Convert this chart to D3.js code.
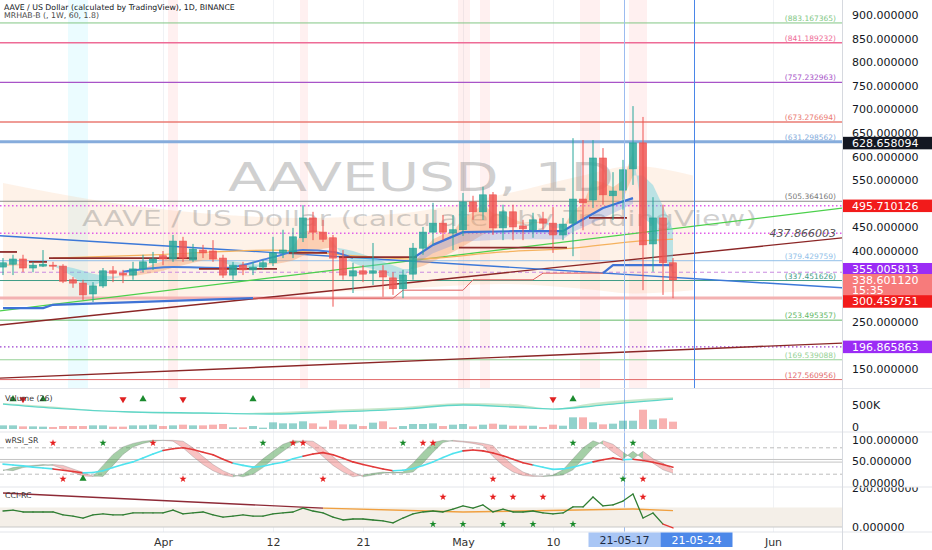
<!DOCTYPE html>
<html><head><meta charset="utf-8">
<script src="https://cdn.jsdelivr.net/npm/d3@7/dist/d3.min.js"></script>
<style>
html,body{margin:0;padding:0;background:#fff;overflow:hidden}
svg{display:block}
text{font-family:"DejaVu Sans",Verdana,sans-serif}
</style></head><body>
<svg id="chart" width="932" height="550"></svg>
<script>
// ================= DATA =================
const startDay = "2021-03-16";
const open  = [366,372,383,364,368,370,368,339,332,309,326,358,353,349,362,375,390,383,421,381,402,400,385,349,370,360,366,375,396,398,428,470,440,428,385,347,358,353,358,343,320,351,406,440,459,438,445,504,483,519,449,483,453,445,468,459,434,459,510,508,597,517,529,574,629,415,470,375];
const high  = [385,392,392,377,402,377,372,345,339,334,364,368,360,377,392,398,400,434,430,415,413,423,392,377,377,377,381,430,445,449,497,483,466,434,402,375,370,417,370,355,360,417,451,502,476,476,523,517,536,525,498,498,466,481,483,493,470,639,635,635,618,567,593,707,684,514,498,385];
const low   = [349,349,355,355,366,360,332,322,296,292,322,334,332,339,355,360,370,377,377,377,385,377,343,339,349,349,360,368,385,385,419,423,419,282,339,311,334,328,303,307,300,339,392,413,423,402,432,466,466,434,423,423,423,428,445,396,423,389,444,491,498,466,487,540,317,356,307,300];
const close = [375,383,364,370,372,368,336,332,307,326,358,353,349,362,377,383,383,421,385,404,396,383,349,370,360,366,375,396,402,430,470,440,425,385,349,358,351,358,345,320,349,406,440,459,440,445,504,483,519,449,483,451,447,466,459,434,457,510,502,597,519,527,572,629,413,470,375,338.60112];
const volumeK = [76,76,55,55,49,42,62,62,62,76,76,49,49,76,76,90,62,76,90,76,76,90,104,35,35,62,28,139,118,118,160,118,49,180,97,97,62,132,160,35,62,104,104,118,62,90,104,55,90,111,90,69,69,69,42,90,69,243,243,139,97,111,173,173,402,194,222,153];

// horizontal levels
const levels = [883.167365, 841.189232, 757.232963, 673.276694, 631.298562, 505.364160, 379.429759, 337.451626, 253.495357, 169.539088, 127.560956];
const extraLevels = [495.710126, 437.866003, 355.005813, 300.459751, 196.865863];
const priceTicks = [150,250,400,450,550,600,650,700,750,800,850,900];
const boxValues = [628.658094, 495.710126, 355.005813, 338.601120, 300.459751, 196.865863];
const lastBarTime = "15:35";

// trendlines: [startIndex, startValue, endIndex, endValue]
const trendGreen  = [0, 274, 84, 491];
const trendMaroon = [0, 244, 84, 428];
const trendMaroon2= [0, 131, 84, 205];
const trendBlue   = [0, 432, 84, 322];

// MRHAB ribbon
const emaFast = [372,374,372,370,370,369,358,346,330,326,336,342,346,352,362,372,378,395,392,398,398,392,375,368,364,364,368,380,392,410,440,445,440,418,390,375,366,362,355,340,342,370,400,425,435,440,470,482,500,480,478,468,460,462,462,448,450,485,500,550,545,535,550,610,470,455,390,350];
const emaSlow = [368,369,370,370,370,370,368,364,358,352,348,346,346,347,350,354,358,365,370,375,380,382,380,378,375,372,371,372,375,380,390,398,405,408,405,400,393,386,378,370,362,362,368,378,388,398,410,422,435,445,452,456,458,459,460,458,456,460,468,480,492,500,510,560,560,540,495,445];

// cloud (sampled)
const cloudIdx = [0,10,20,30,40,50,58,63,69];
const cloudTop = [544,505,480,470,480,520,560,580,560];
const cloudBot = [283,290,300,310,320,330,320,310,317];

// support / resistance step lines
const blueLowIdx = [0,4,5,25];            const blueLowVal = [279,279,286,300];
const redThinIdx = [25,39,40,46,47,53,54,60]; const redThinVal = [300,300,317,317,339,339,353,353];
const blueEndIdx = [60,61,67];            const blueEndVal = [353,370,370];
const blueMidIdx = [12,17,22,27,30,33,35];const blueMidVal = [356,366,364,387,402,398,385];
const blueHiIdx  = [41,43,46,51,56,57,60,63]; const blueHiVal = [385,413,440,442,442,455,491,512];
const blueHiFill = [370,395,420,425,425,440,470,500];
const resistSegs = [[0,1,398],[3,4,377],[5,19,385],[20,27,362],[29,32,396],[34,41,387],[46,56,407],[59,62,470]];
const emaLongIdx = [5,15,27,35,41,50,57,63,67]; const emaLongVal = [385,392,402,390,383,398,406,420,425];

// shaded columns [fromIndex, toIndex]
const pinkCols = [[16.5,17.5],[29.7,30.5],[45.5,46.7],[47.7,48.7],[57.7,59.7],[62.6,64.4]];
const cyanCols = [[6.5,8.5]];

// volume MA band (sampled)
const volMaIdx = [0,5,13,20,27,33,40,46,51,55,59,62,67];
const volMa    = [520,437,354,333,312,354,416,500,458,416,478,541,624];
const volMa2   = [540,470,340,320,350,400,460,540,520,420,540,600,660];
const volUp = [1,4,14,25,57];
const volDown = [2,12,18,55];

// wRSI_SR
const rsiFast = [28,35,38,40,42,40,32,24,16,15,40,65,82,90,95,97,97,95,80,60,42,28,18,14,20,35,55,72,88,96,95,80,60,40,25,14,18,22,25,22,25,45,70,92,97,95,93,90,85,60,40,25,17,15,16,18,30,55,80,96,88,70,55,72,55,45,30,22];
const rsiSlow = [30,28,35,38,40,42,40,32,24,16,15,40,65,82,90,95,97,97,95,80,60,42,28,18,14,20,35,55,72,88,96,95,80,60,40,25,14,18,22,25,22,25,45,70,92,97,95,93,90,85,60,40,25,17,15,16,18,30,55,80,96,88,70,55,72,55,45,30];
const rsiSignal = [43,41,39,36,34,32,29,26,23,24,28,35,42,48,57,66,74,78,80,76,70,64,54,45,40,36,38,43,47,55,61,66,69,64,56,48,42,37,32,28,29,33,40,48,58,67,73,75,73,68,62,54,46,41,36,31,32,36,42,48,53,57,53,54,51,47,42,36];
const rsiCyanRanges = [[0,5],[8,16],[23,30],[39,46],[53,59],[62,63]];
const rsiTopRed = [5,15,29,30,42,43];
const rsiTopGreen = [10,26,40,57,63];
const rsiBotRed = [6,18,32,49,64];
const rsiBotGreen = [62];
const rsiBotTri = [8];
const rsiLevels = [20,80];

// CCI-RC
const cci = [82,87,77,77,77,77,62,56,46,62,67,62,62,72,72,72,72,87,67,72,77,62,51,56,62,56,56,67,72,77,97,82,72,51,36,41,41,36,31,21,46,67,77,82,77,92,108,97,113,77,92,77,77,82,72,67,72,103,103,154,108,113,133,169,46,72,15,-5];
const cciSigIdx = [0,32,46,63,67];
const cciSigVal = [174,97,77,92,84];
const cciRed = [44,49,51,54,64];
const cciGreen = [43,46,50,53,57];

// time axis
const timeTicks = ["2021-04-01","2021-04-12","2021-04-21","2021-05-01","2021-05-10","2021-06-01"];
const timeLabels = ["Apr","12","21","May","10","Jun"];
const markDates = ["2021-05-17","2021-05-24"];
const markLabels = ["21-05-17","21-05-24"];

// ================= LAYOUT =================
const W = 932, H = 550, AX = 842;
const svg = d3.select("#chart");
const parse = d3.utcParse("%Y-%m-%d");
const t0 = parse(startDay);
const dateOf = i => new Date(t0.getTime() + i * 864e5);
const x = d3.scaleUtc().domain([t0, dateOf(77)]).range([3, 773]);
const X = i => x(dateOf(i));
const y = d3.scaleLinear().domain([150, 900]).range([369, 15]);
const yV = d3.scaleLinear().domain([0, 500]).range([429, 405]);
const yR = d3.scaleLinear().domain([0, 100]).range([483, 439]);
const yC = d3.scaleLinear().domain([0, 200]).range([527, 488]);
const idx = d3.range(open.length);

const defs = svg.append("defs");
function clip(id, y0, y1, x1 = AX) {
  defs.append("clipPath").attr("id", id).append("rect").attr("x", 0).attr("y", y0).attr("width", x1).attr("height", y1 - y0);
}
clip("cMain", 0, 388); clip("cVol", 389, 432); clip("cRsi", 432, 487); clip("cCci", 487, 532);
clip("cCciAx", 487.5, 532, W);

// vertical grid lines across panes
const gridG = svg.append("g");
timeTicks.forEach(d => {
  const xx = Math.round(x(parse(d))) + 0.5;
  gridG.append("line").attr("x1", xx).attr("x2", xx).attr("y1", 0).attr("y2", 532).attr("stroke", "#f0f2f5");
});

// ================= MAIN PANE =================
const gM = svg.append("g").attr("clip-path", "url(#cMain)");
pinkCols.forEach(c => gM.append("rect").attr("x", X(c[0])).attr("width", X(c[1]) - X(c[0])).attr("y", 0).attr("height", 388).attr("fill", "rgba(255,90,90,0.09)"));
cyanCols.forEach(c => gM.append("rect").attr("x", X(c[0])).attr("width", X(c[1]) - X(c[0])).attr("y", 0).attr("height", 388).attr("fill", "rgba(0,220,255,0.08)"));

const cloudData = cloudIdx.map((d, k) => ({i: d, t: cloudTop[k], b: cloudBot[k]}));
gM.append("path").datum(cloudData)
  .attr("d", d3.area().x(d => X(d.i)).y0(d => y(d.b)).y1(d => y(d.t)).curve(d3.curveMonotoneX))
  .attr("fill", "rgba(252,196,150,0.22)");

// watermarks
gM.append("text").text("AAVEUSD, 1D").attr("x", 228).attr("y", 191)
  .attr("font-family", "'DejaVu Sans',sans-serif").attr("font-size", 39).attr("fill", "rgba(120,120,120,0.34)")
  .attr("textLength", 386).attr("lengthAdjust", "spacingAndGlyphs");
gM.append("text").text("AAVE / US Dollar (calculated by TradingView)").attr("x", 82).attr("y", 226)
  .attr("font-family", "'DejaVu Sans',sans-serif").attr("font-size", 21).attr("fill", "rgba(120,120,120,0.34)")
  .attr("textLength", 675).attr("lengthAdjust", "spacingAndGlyphs");

// level lines
const levelStyle = [
  {c:"#82c785", w:1}, {c:"#ee6b96", w:1.3}, {c:"#a854c8", w:1.3}, {c:"#ea7b73", w:1.6},
  {c:"#86acdc", w:3}, {c:"#8c8c8c", w:1}, {c:"#92bfe9", w:1}, {c:"#3e9c86", w:1},
  {c:"#62b866", w:1}, {c:"#95d195", w:1}, {c:"#e26a6a", w:1}
];
levels.forEach((v, k) => {
  gM.append("line").attr("x1", 0).attr("x2", AX).attr("y1", y(v)).attr("y2", y(v))
    .attr("stroke", levelStyle[k].c).attr("stroke-width", levelStyle[k].w);
});
const extraStyle = [
  {c:"#e05ce8", w:1.5, d:"1.5,2.5"}, {c:"#e05ce8", w:1.5, d:"1.5,2.5"},
  {c:"#c98be0", w:1, d:"4,3"}, {c:"#f3b2b2", w:3, d:null}, {c:"#9c3fd0", w:1.3, d:"1.5,2.5"}
];
extraLevels.forEach((v, k) => {
  const l = gM.append("line").attr("x1", 0).attr("x2", AX).attr("y1", y(v)).attr("y2", y(v))
    .attr("stroke", extraStyle[k].c).attr("stroke-width", extraStyle[k].w);
  if (extraStyle[k].d) l.attr("stroke-dasharray", extraStyle[k].d);
});

function trend(t, color, w) {
  const slope = (t[3] - t[1]) / (t[2] - t[0]);
  const i0 = -1, i1 = 86;
  gM.append("line").attr("x1", X(i0)).attr("y1", y(t[1] + slope * (i0 - t[0])))
    .attr("x2", X(i1)).attr("y2", y(t[1] + slope * (i1 - t[0])))
    .attr("stroke", color).attr("stroke-width", w);
}
trend(trendGreen, "#4cd04c", 1.3);
trend(trendMaroon, "#8b2626", 1.4);
trend(trendMaroon2, "#8b2626", 1.4);
trend(trendBlue, "#3b78d8", 1.4);

for (let i = 0; i < emaFast.length - 1; i++) {
  const up = (emaFast[i] + emaFast[i+1]) >= (emaSlow[i] + emaSlow[i+1]);
  const pts = [[X(i), y(emaFast[i])], [X(i+1), y(emaFast[i+1])], [X(i+1), y(emaSlow[i+1])], [X(i), y(emaSlow[i])]];
  gM.append("path").attr("d", "M" + pts.join("L") + "Z")
    .attr("fill", up ? "rgba(247,160,105,0.42)" : "rgba(95,205,222,0.42)");
}

gM.append("path").datum(emaLongIdx.map((d, k) => [X(d), y(emaLongVal[k])]))
  .attr("d", d3.line().curve(d3.curveMonotoneX)).attr("fill", "none").attr("stroke", "#f5b25e").attr("stroke-width", 1.2);

const bh = blueHiIdx.map((d, k) => ({i: d, v: blueHiVal[k], f: blueHiFill[k]}));
gM.append("path").datum(bh).attr("d", d3.area().x(d => X(d.i)).y0(d => y(d.f)).y1(d => y(d.v)))
  .attr("fill", "rgba(100,140,230,0.28)");
function poly(ix, vals, color, w, curve) {
  const ln = d3.line();
  if (curve) ln.curve(curve);
  gM.append("path").datum(ix.map((d, k) => [X(d), y(vals[k])])).attr("d", ln)
    .attr("fill", "none").attr("stroke", color).attr("stroke-width", w).attr("stroke-linejoin", "round");
}
poly(blueHiIdx, blueHiVal, "#3f73d6", 2.2);
poly(blueMidIdx, blueMidVal, "#4a80dc", 2, d3.curveMonotoneX);
poly(blueLowIdx, blueLowVal, "#3f73d6", 2.2);
poly(redThinIdx, redThinVal, "#e06060", 1);
poly(blueEndIdx, blueEndVal, "#3f73d6", 2.2);
resistSegs.forEach(s => {
  gM.append("line").attr("x1", X(s[0]) - 4).attr("x2", X(s[1]) + 4).attr("y1", y(s[2])).attr("y2", y(s[2]))
    .attr("stroke", "#8e2d2d").attr("stroke-width", 1.8);
});

// candles
const upC = "#26a69a", dnC = "#ef5350";
const cg = gM.append("g");
idx.forEach(i => {
  const up = close[i] >= open[i];
  const col = up ? upC : dnC;
  const cx = X(i);
  cg.append("line").attr("x1", cx).attr("x2", cx).attr("y1", y(high[i])).attr("y2", y(low[i]))
    .attr("stroke", col).attr("stroke-width", 1);
  const top = y(Math.max(open[i], close[i])), bot = y(Math.min(open[i], close[i]));
  cg.append("rect").attr("x", cx - 3.5).attr("width", 7).attr("y", top).attr("height", Math.max(1, bot - top))
    .attr("fill", col).attr("fill-opacity", 0.82).attr("stroke", col).attr("stroke-width", 0.6);
});

const fmt6 = d3.format(".6f");
levels.forEach((v, k) => {
  gM.append("text").text("(" + fmt6(v) + ")").attr("x", 836).attr("y", y(v) - 2)
    .attr("text-anchor", "end").attr("font-size", 7.5).attr("fill", k === 5 ? "#777" : levelStyle[k].c);
});
gM.append("text").text(fmt6(extraLevels[1])).attr("x", 836).attr("y", y(extraLevels[1]) + 4)
  .attr("text-anchor", "end").attr("font-size", 11).attr("font-style", "italic").attr("fill", "#555");

svg.append("line").attr("x1", X(62) + 1.5).attr("x2", X(62) + 1.5).attr("y1", 0).attr("y2", 532)
  .attr("stroke", "#9cbcf0").attr("stroke-width", 1);
svg.append("line").attr("x1", X(69) + 1.5).attr("x2", X(69) + 1.5).attr("y1", 0).attr("y2", 389)
  .attr("stroke", "#4a86e8").attr("stroke-width", 1);

svg.append("text").text("AAVE / US Dollar (calculated by TradingView), 1D, BINANCE").attr("x", 4).attr("y", 9.5)
  .attr("font-size", 7.8).attr("fill", "#131722");
svg.append("text").text("MRHAB-B (, 1W, 60, 1.8)").attr("x", 4).attr("y", 18)
  .attr("font-size", 7.8).attr("fill", "#4a4a4a");

// ================= VOLUME PANE =================
const gVol = svg.append("g").attr("clip-path", "url(#cVol)");
idx.forEach(i => {
  const up = close[i] >= open[i];
  gVol.append("rect").attr("x", X(i) - 4).attr("width", 8).attr("y", yV(volumeK[i])).attr("height", yV(0) - yV(volumeK[i]))
    .attr("fill", up ? "rgba(38,166,154,0.5)" : "rgba(239,83,80,0.45)");
});
const vm = volMaIdx.map((d, k) => ({i: d, a: volMa[k], b: volMa2[k]}));
gVol.append("path").datum(vm).attr("d", d3.area().x(d => X(d.i)).y0(d => yV(d.a)).y1(d => yV(d.b)).curve(d3.curveMonotoneX))
  .attr("fill", "rgba(102,187,106,0.35)");
gVol.append("path").datum(vm).attr("d", d3.line().x(d => X(d.i)).y(d => yV(d.a)).curve(d3.curveMonotoneX))
  .attr("fill", "none").attr("stroke", "#5fd6c8").attr("stroke-width", 1.3);
const triUp = d3.symbol().type(d3.symbolTriangle).size(22);
volUp.forEach(i => gVol.append("path").attr("d", triUp()).attr("transform", `translate(${X(i)},${yV(620)})`).attr("fill", "#1b8a2e"));
volDown.forEach(i => gVol.append("path").attr("d", triUp()).attr("transform", `translate(${X(i)},${yV(620)}) rotate(180)`).attr("fill", "#e02020"));
svg.append("text").text("Volume (26)").attr("x", 5).attr("y", 401).attr("font-size", 7.8).attr("fill", "#333");

// ================= wRSI PANE =================
const gR = svg.append("g").attr("clip-path", "url(#cRsi)");
rsiLevels.forEach(v => gR.append("line").attr("x1", 0).attr("x2", AX).attr("y1", yR(v)).attr("y2", yR(v))
  .attr("stroke", "#bdbdbd").attr("stroke-dasharray", "4,3"));
[47.5, 53.5].forEach(v => gR.append("line").attr("x1", 0).attr("x2", AX).attr("y1", yR(v)).attr("y2", yR(v))
  .attr("stroke", "#c4c4c4").attr("stroke-width", 1));
for (let i = 0; i < rsiFast.length - 1; i++) {
  const up = (rsiFast[i] + rsiFast[i+1]) >= (rsiSlow[i] + rsiSlow[i+1]);
  const pts = [[X(i), yR(rsiFast[i])], [X(i+1), yR(rsiFast[i+1])], [X(i+1), yR(rsiSlow[i+1])], [X(i), yR(rsiSlow[i])]];
  gR.append("path").attr("d", "M" + pts.join("L") + "Z")
    .attr("fill", up ? "rgba(76,160,80,0.5)" : "rgba(240,120,120,0.45)");
}
[rsiFast, rsiSlow].forEach(arr => gR.append("path").datum(idx.map(i => [X(i), yR(arr[i])])).attr("d", d3.line())
  .attr("fill", "none").attr("stroke", "rgba(120,120,120,0.45)").attr("stroke-width", 0.7));
const isCyan = i => rsiCyanRanges.some(r => i >= r[0] && i < r[1]);
for (let i = 0; i < rsiSignal.length - 1; i++) {
  gR.append("line").attr("x1", X(i)).attr("x2", X(i+1)).attr("y1", yR(rsiSignal[i])).attr("y2", yR(rsiSignal[i+1]))
    .attr("stroke", isCyan(i) ? "#4fe3ee" : "#e23a3a").attr("stroke-width", 1.6).attr("stroke-linecap", "round");
}
const star = d3.symbol().type(d3.symbolStar).size(16);
const mk = (g, arr, v, col, sc) => arr.forEach(i => g.append("path").attr("d", star()).attr("transform", `translate(${X(i)},${sc(v)})`).attr("fill", col));
mk(gR, rsiTopRed, 91, "#e62020", yR); mk(gR, rsiTopGreen, 91, "#188a2a", yR);
mk(gR, rsiBotRed, 9, "#e62020", yR); mk(gR, rsiBotGreen, 9, "#188a2a", yR);
rsiBotTri.forEach(i => gR.append("path").attr("d", triUp()).attr("transform", `translate(${X(i)},${yR(10)})`).attr("fill", "#188a2a"));
svg.append("text").text("wRSI_SR").attr("x", 5).attr("y", 443).attr("font-size", 7.8).attr("fill", "#333");

// ================= CCI PANE =================
const gC = svg.append("g").attr("clip-path", "url(#cCci)");
gC.append("rect").attr("x", 0).attr("width", AX).attr("y", yC(100)).attr("height", yC(0) - yC(100)).attr("fill", "#f4efe8");
gC.append("line").attr("x1", 0).attr("x2", AX).attr("y1", yC(0)).attr("y2", yC(0)).attr("stroke", "#c9c9c9");
for (let k = 0; k < cciSigIdx.length - 1; k++) {
  gC.append("line").attr("x1", X(cciSigIdx[k])).attr("x2", X(cciSigIdx[k+1]))
    .attr("y1", yC(cciSigVal[k])).attr("y2", yC(cciSigVal[k+1]))
    .attr("stroke", k === 0 ? "#8e2a36" : "#f0a040").attr("stroke-width", 1.4);
}
for (let i = 0; i < cci.length - 1; i++) {
  gC.append("line").attr("x1", X(i)).attr("x2", X(i+1)).attr("y1", yC(cci[i])).attr("y2", yC(cci[i+1]))
    .attr("stroke", i >= 66 ? "#e53935" : "#2f7d32").attr("stroke-width", 1.3).attr("stroke-linecap", "round");
}
mk(gC, cciRed, 154, "#e62020", yC); mk(gC, cciGreen, 15, "#188a2a", yC);
svg.append("text").text("CCI-RC").attr("x", 5).attr("y", 498).attr("font-size", 7.8).attr("fill", "#333");

// ================= SEPARATORS =================
[388.5, 432, 487, 532].forEach(yy => svg.append("line").attr("x1", 0).attr("x2", W).attr("y1", yy).attr("y2", yy).attr("stroke", "#e3e5ea"));
svg.append("line").attr("x1", AX + 0.5).attr("x2", AX + 0.5).attr("y1", 0).attr("y2", H).attr("stroke", "#d6d9df");

// ================= AXES =================
function styleAxis(g) {
  g.select(".domain").remove();
  g.attr("font-family", "'DejaVu Sans',sans-serif").attr("font-size", 11);
  g.selectAll("text").attr("fill", "#131722");
}
svg.append("g").attr("transform", `translate(${AX},0)`)
  .call(d3.axisRight(y).tickValues(priceTicks).tickFormat(fmt6).tickSize(0).tickPadding(10)).call(styleAxis);
const gVA = svg.append("g").attr("transform", `translate(${AX},0)`)
  .call(d3.axisRight(yV).tickValues([0, 500]).tickFormat(d => d ? d + "K" : "0").tickSize(0).tickPadding(10)).call(styleAxis);
gVA.selectAll(".tick").filter(d => d === 0).select("text").attr("dy", "0.1em");
const gRA = svg.append("g").attr("transform", `translate(${AX},0)`)
  .call(d3.axisRight(yR).tickValues([0, 50, 100]).tickFormat(fmt6).tickSize(0).tickPadding(10)).call(styleAxis);
gRA.selectAll(".tick").filter(d => d === 100).select("text").attr("dy", "0.45em");
svg.append("g").attr("transform", `translate(${AX},0)`).attr("clip-path", "url(#cCciAx)")
  .call(d3.axisRight(yC).tickValues([0, 200]).tickFormat(fmt6).tickSize(0).tickPadding(10)).call(styleAxis);

const boxStyle = [
  {bg:"#131722", dy:0}, {bg:"#f21b1b", dy:0}, {bg:"#9b2cf5", dy:-3},
  {bg:"#f77b7b", dy:0, two:true}, {bg:"#f21b1b", dy:3.5}, {bg:"#9b2cf5", dy:0}
];
boxValues.forEach((v, k) => {
  const s = boxStyle[k];
  const cy = y(v) + s.dy;
  const h = s.two ? 22 : 12.5;
  const top = s.two ? cy - 6 : cy - h / 2;
  svg.append("rect").attr("x", AX + 1).attr("y", top).attr("width", W - AX - 1).attr("height", h).attr("fill", s.bg);
  svg.append("text").text(fmt6(v)).attr("x", AX + 10).attr("y", cy).attr("dy", "0.35em")
    .attr("font-size", 11).attr("fill", "#fff");
  if (s.two) svg.append("text").text(lastBarTime).attr("x", AX + 10).attr("y", cy + 10.5).attr("dy", "0.35em")
    .attr("font-size", 11).attr("fill", "#fff");
});

const gTA = svg.append("g").attr("transform", "translate(0,532)")
  .call(d3.axisBottom(x).tickValues(timeTicks.map(parse)).tickFormat((d, k) => timeLabels[k]).tickSize(0).tickPadding(6));
styleAxis(gTA);
gTA.selectAll("text").attr("fill", "#333");
let prevEnd = 0;
markDates.forEach((d, k) => {
  const cx = x(parse(d)) + 1.5;
  let bx = Math.max(cx - 36, prevEnd);
  const bw = 72;
  svg.append("rect").attr("x", bx).attr("y", 532.5).attr("width", bw).attr("height", 14.5)
    .attr("fill", k === 0 ? "#a9c6f5" : "#4c88e9");
  svg.append("text").text(markLabels[k]).attr("x", bx + bw / 2).attr("y", 544).attr("text-anchor", "middle")
    .attr("font-size", 11).attr("fill", k === 0 ? "#1b2a44" : "#fff");
  prevEnd = bx + bw;
});
</script></body></html>
